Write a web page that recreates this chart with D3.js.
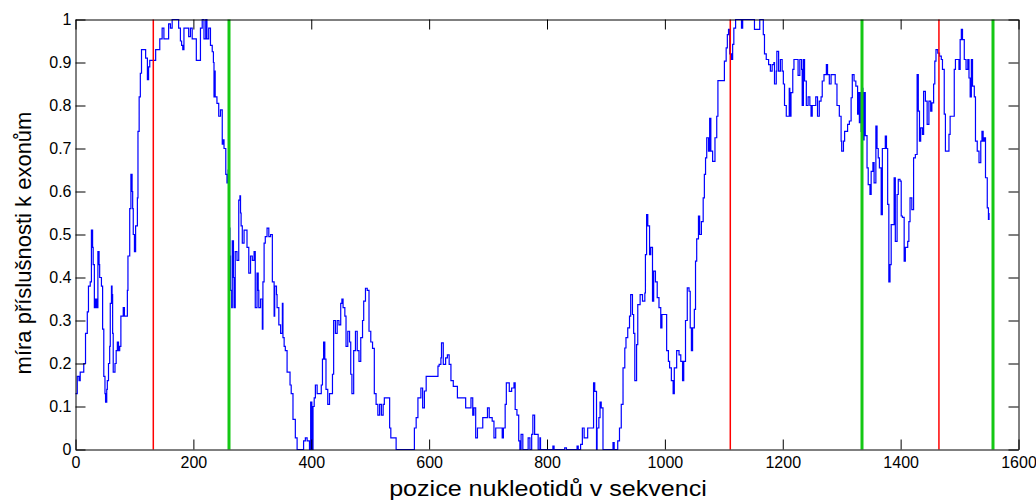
<!DOCTYPE html>
<html>
<head>
<meta charset="utf-8">
<script src="https://cdn.jsdelivr.net/npm/d3@7"></script>
<style>
  body { margin: 0; background: #fff; }
  svg { display: block; }
  text { font-family: Arial, "Liberation Sans", sans-serif; fill: #000; }
</style>
</head>
<body>
<svg id="chart" width="1036" height="500"></svg>
<script>
// Nucleotide positions at which the membership value changes (step profile)
const positions = [
  0,3,6,8,12,14,17,20,22,25,27,29,30,32,34,36,38,40,41,44,46,48,50,51,53,54,56,58,59,61,62,63,64,67,69,71,73,75,77,81,83,85,88,89,
  92,94,96,97,98,100,102,105,106,108,110,112,117,119,122,124,126,136,143,147,150,158,161,164,175,178,180,182,184,192,195,198,205,
  212,215,218,221,223,226,229,232,234,235,236,237,240,243,246,249,251,252,255,257,259,260,262,263,265,266,268,269,271,274,277,279,
  280,281,283,286,290,291,294,297,300,303,305,308,310,311,314,317,318,320,322,325,328,331,334,337,338,341,342,345,348,351,352,354,
  356,359,364,366,369,373,376,387,390,393,397,399,401,403,405,407,410,415,417,419,421,423,425,428,431,436,438,441,444,447,450,452,
  454,457,459,462,465,467,469,472,475,478,481,484,487,489,492,495,498,501,504,507,510,513,516,519,522,524,531,533,535,544,575,578,
  581,584,586,589,592,595,615,617,620,621,624,628,631,634,637,641,648,662,671,674,676,679,682,691,699,702,707,710,713,724,726,729,
  731,736,740,744,746,749,752,754,756,759,768,771,774,776,779,785,788,789,810,812,830,833,851,853,857,860,863,869,879,881,884,885,
  888,890,892,895,912,914,920,923,926,929,932,934,937,940,942,945,947,949,952,954,958,962,966,967,969,971,974,976,979,981,984,987,
  990,993,995,1003,1006,1008,1011,1014,1016,1020,1024,1027,1030,1032,1035,1038,1041,1043,1045,1047,1050,1052,1054,1057,1059,1062,
  1065,1067,1069,1071,1074,1076,1078,1081,1085,1088,1090,1101,1104,1106,1108,1110,1113,1115,1117,1120,1130,1132,1152,1161,1167,
  1169,1172,1176,1179,1182,1185,1186,1189,1190,1193,1196,1199,1201,1203,1206,1211,1212,1214,1217,1219,1224,1226,1229,1232,1233,
  1235,1237,1240,1243,1246,1248,1250,1256,1259,1262,1265,1267,1270,1274,1276,1279,1282,1289,1292,1296,1299,1300,1303,1305,1310,
  1313,1316,1318,1321,1324,1327,1328,1330,1331,1333,1334,1336,1338,1340,1343,1345,1348,1350,1353,1355,1358,1360,1362,1364,1367,
  1369,1372,1374,1376,1378,1380,1382,1384,1387,1389,1391,1394,1396,1399,1401,1403,1406,1408,1412,1414,1416,1419,1422,1425,1428,
  1430,1432,1434,1437,1439,1442,1445,1448,1451,1453,1456,1458,1460,1463,1466,1469,1471,1474,1476,1482,1484,1491,1493,1499,1501,
  1503,1505,1508,1511,1514,1516,1518,1520,1522,1525,1527,1530,1533,1536,1538,1540,1542,1544,1547,1549,1550
];

// Degree of membership to exons at each of those positions
const membership = [
  0.13,0.17,0.16,0.18,0.18,0.20,0.27,0.32,0.38,0.39,0.51,0.47,0.43,0.33,0.35,0.33,0.46,0.43,0.40,0.38,0.28,0.17,0.13,0.11,0.14,0.16,
  0.20,0.24,0.34,0.38,0.36,0.27,0.18,0.20,0.23,0.25,0.23,0.24,0.31,0.33,0.31,0.31,0.37,0.45,
  0.56,0.64,0.60,0.56,0.50,0.46,0.52,0.585,0.74,0.82,0.875,0.93,0.93,0.91,0.86,0.89,0.905,0.93,0.955,0.98,0.955,0.99,0.98,1.0,0.98,
  0.95,0.94,0.93,0.98,0.96,0.98,0.955,0.905,
  0.98,1.0,0.955,1.0,0.955,0.98,0.94,0.925,0.90,0.82,0.88,0.82,0.805,0.775,0.79,0.71,0.72,0.70,0.64,0.62,0.65,0.515,0.45,0.37,0.33,
  0.485,0.40,0.33,0.46,0.44,0.58,0.59,
  0.55,0.52,0.48,0.51,0.51,0.47,0.41,0.45,0.44,0.46,0.33,0.41,0.37,0.33,0.35,0.28,0.39,0.48,0.495,0.515,0.495,0.50,0.39,0.31,0.38,
  0.36,0.33,0.29,0.27,0.34,0.26,0.24,
  0.23,0.18,0.15,0.13,0.07,0.027,0.0,0.02,0.027,0.02,0.0,0.11,0.0,0.10,0.12,0.15,0.13,0.13,0.15,0.21,0.25,0.21,0.14,0.105,0.13,0.175,
  0.30,0.27,0.30,0.29,0.34,0.35,
  0.33,0.31,0.24,0.275,0.25,0.175,0.13,0.23,0.275,0.23,0.205,0.26,0.30,0.345,0.375,0.37,0.275,0.25,0.235,0.13,0.105,0.08,0.105,0.08,
  0.105,0.12,0.12,0.05,0.027,0.0,0.05,0.074,
  0.12,0.12,0.143,0.097,0.136,0.17,0.194,0.198,0.213,0.248,0.198,0.213,0.22,0.198,0.16,0.147,0.12,0.097,0.12,0.08,0.097,0.027,0.05,
  0.074,0.097,0.074,0.066,0.027,0.05,0.027,0.05,0.105,
  0.155,0.135,0.143,0.155,0.093,0.08,0.02,0.0,0.035,0.0,0.027,0.0,0.035,0.08,0.035,0.0,0.027,0.0,0.008,0.0,0.004,0.0,0.008,0.0,0.012,
  0.05,0.027,0.05,0.155,0.135,0.0,0.05,
  0.074,0.11,0.097,0.0,0.016,0.0,0.02,0.05,0.105,0.19,0.236,0.26,0.283,0.31,0.36,0.314,0.27,0.16,0.244,0.337,0.36,0.345,0.364,0.453,
  0.546,0.52,0.453,0.47,0.345,0.415,0.39,0.353,
  0.33,0.283,0.314,0.23,0.205,0.19,0.16,0.13,0.19,0.23,0.22,0.205,0.16,0.205,0.30,0.376,0.368,0.283,0.23,0.283,0.326,0.438,0.49,0.543,
  0.50,0.53,
  0.585,0.64,0.678,0.725,0.694,0.77,0.694,0.67,0.725,0.775,0.858,0.903,0.934,0.965,0.977,0.92,0.907,0.942,0.98,1.0,0.98,1.0,0.977,
  1.0,0.965,
  0.92,0.907,0.895,0.88,0.895,0.90,0.85,0.88,0.926,0.88,0.907,0.88,0.85,0.80,0.775,0.84,0.775,0.83,0.884,0.907,0.907,0.87,0.907,
  0.884,0.80,
  0.907,0.857,0.80,0.82,0.80,0.775,0.80,0.82,0.775,0.81,0.82,0.857,0.872,0.895,0.872,0.85,0.872,0.85,0.80,0.775,0.717,0.694,0.717,
  0.74,0.756,
  0.764,0.818,0.872,0.857,0.845,0.78,0.83,0.76,0.83,0.74,0.84,0.72,0.83,0.73,0.655,0.616,0.593,0.647,0.667,0.62,0.752,0.70,0.678,
  0.655,0.546,
  0.70,0.70,0.729,0.70,0.57,0.39,0.43,0.523,0.523,0.632,0.484,0.593,0.628,0.624,0.543,0.54,0.438,0.47,0.484,0.53,0.585,0.558,0.678,
  0.686,0.872,
  0.787,0.717,0.748,0.733,0.833,0.81,0.756,0.81,0.787,0.806,0.85,0.903,0.93,0.922,0.915,0.907,0.884,0.78,0.694,0.733,0.775,0.884,
  0.907,0.884,0.953,
  0.977,0.953,0.907,0.884,0.907,0.864,0.82,0.907,0.845,0.82,0.717,0.694,0.667,0.717,0.74,0.717,0.725,0.632,0.562,0.535,0.55
];

// Annotated exon boundaries: starts (red) and ends (green)
const exonStarts = [132, 1111, 1465];
const exonEnds = [260, 1335, 1556];

const xTicks = [0, 200, 400, 600, 800, 1000, 1200, 1400, 1600];
const yTicks = [0, 0.1, 0.2, 0.3, 0.4, 0.5, 0.6, 0.7, 0.8, 0.9, 1];
const yTickLabels = ["0", "0.1", "0.2", "0.3", "0.4", "0.5", "0.6", "0.7", "0.8", "0.9", "1"];

const xLabel = "pozice nukleotidů v sekvenci";
const yLabel = "míra příslušnosti k exonům";

const svg = d3.select("#chart");
const plotLeft = 75.5, plotRight = 1018.5, plotTop = 19.5, plotBottom = 449.5;

const x = d3.scaleLinear().domain([0, 1600]).range([plotLeft, plotRight]);
const y = d3.scaleLinear().domain([0, 1]).range([plotBottom, plotTop]);

const series = positions.map((p, i) => ({ p, v: membership[i] }));

// Membership profile
const line = d3.line()
  .x(d => x(d.p))
  .y(d => y(d.v))
  .curve(d3.curveStepAfter);

svg.append("path")
  .datum(series)
  .attr("fill", "none")
  .attr("stroke", "#0000ff")
  .attr("stroke-width", 1.2)
  .attr("d", line);

// Exon boundary markers
svg.append("g").selectAll("line")
  .data(exonStarts)
  .join("line")
  .attr("x1", d => x(d))
  .attr("x2", d => x(d))
  .attr("y1", plotTop)
  .attr("y2", plotBottom)
  .attr("stroke", "#ff0000")
  .attr("stroke-width", 1.5);

svg.append("g").selectAll("line")
  .data(exonEnds)
  .join("line")
  .attr("x1", d => Math.round(x(d)))
  .attr("x2", d => Math.round(x(d)))
  .attr("y1", plotTop)
  .attr("y2", plotBottom)
  .attr("stroke", "#14c814")
  .attr("stroke-width", 3);

// Axes with inward ticks on all four sides
const tickLen = 10;
const fmtY = d => yTickLabels[yTicks.indexOf(d)];

const gx = svg.append("g")
  .attr("transform", `translate(0,${plotBottom})`)
  .call(d3.axisBottom(x).tickValues(xTicks).tickFormat(d3.format("d"))
    .tickSizeInner(-tickLen).tickSizeOuter(0).tickPadding(7));

const gxTop = svg.append("g")
  .attr("transform", `translate(0,${plotTop})`)
  .call(d3.axisTop(x).tickValues(xTicks).tickFormat("")
    .tickSizeInner(-tickLen).tickSizeOuter(0));

const gy = svg.append("g")
  .attr("transform", `translate(${plotLeft},0)`)
  .call(d3.axisLeft(y).tickValues(yTicks).tickFormat(fmtY)
    .tickSizeInner(-tickLen).tickSizeOuter(0).tickPadding(4));

const gyRight = svg.append("g")
  .attr("transform", `translate(${plotRight},0)`)
  .call(d3.axisRight(y).tickValues(yTicks).tickFormat("")
    .tickSizeInner(-tickLen).tickSizeOuter(0));

[gx, gxTop, gy, gyRight].forEach(g => {
  g.select(".domain").attr("stroke", "#000").attr("stroke-width", 1);
  g.selectAll(".tick line").attr("stroke", "#000").attr("stroke-width", 1);
  g.selectAll(".tick text")
    .attr("fill", "#000")
    .style("font-size", "16px")
    .style("font-family", "Arial, 'Liberation Sans', sans-serif");
});

// Axis titles (the horizontal one is set slightly wide)
svg.append("text")
  .attr("transform", `translate(${(plotLeft + plotRight) / 2 + 1},496) scale(1.14,1)`)
  .attr("text-anchor", "middle")
  .style("font-size", "22px")
  .text(xLabel);

svg.append("text")
  .attr("transform", `translate(31,243) rotate(-90)`)
  .attr("text-anchor", "middle")
  .style("font-size", "22px")
  .text(yLabel);
</script>
</body>
</html>
